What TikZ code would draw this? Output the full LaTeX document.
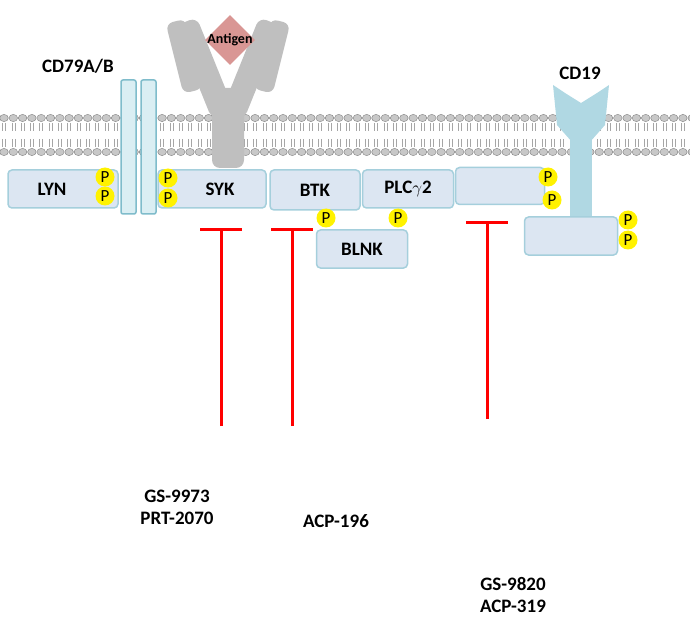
\documentclass[tikz,border=0pt]{standalone}
\usepackage{fontspec}
\setmainfont{Carlito}
\usepackage{xcolor}
\usetikzlibrary{shapes.geometric}
\definecolor{boxfill}{HTML}{DCE6F2}
\definecolor{boxline}{HTML}{A5CFDC}
\definecolor{barfill}{HTML}{DAEEF3}
\definecolor{barline}{HTML}{7FBCCB}
\definecolor{cdcol}{HTML}{B0D8E3}
\definecolor{bcrgray}{HTML}{BFBFBF}
\definecolor{headgray}{HTML}{C8C8C8}
\definecolor{antigen}{HTML}{D99694}
\tikzset{
    kinase/.style = {draw=boxline, fill=boxfill, line width=1.5pt, rectangle, rounded corners=4pt},
    phos/.style = {fill=yellow, circle, inner sep=0pt, minimum size=19pt, font=\fontsize{17}{17}\selectfont},
    label-text/.style = {font=\fontsize{19}{22}\selectfont\bfseries},
    inhibit/.style = {draw=red, line width=3pt},
}
\begin{document}
\begin{tikzpicture}[x=1pt, y=-1pt]
\useasboundingbox (0,0) rectangle (690,628);
% membrane
\foreach \i in {0,...,74} {
    \draw[gray, fill=headgray, line width=0.4pt] (4+9.3*\i,118) ellipse (4.3 and 3.6);
    \draw[gray, fill=headgray, line width=0.4pt] (4+9.3*\i,152) ellipse (4.3 and 3.6);
    \draw[gray!70, line width=0.5pt] (2.5+9.3*\i,123) -- (2.5+9.3*\i,131) (5.5+9.3*\i,123) -- (5.5+9.3*\i,131);
    \draw[gray!70, line width=0.5pt] (2.5+9.3*\i,139) -- (2.5+9.3*\i,147) (5.5+9.3*\i,139) -- (5.5+9.3*\i,147);
}
% B cell receptor
\begin{scope}[fill=bcrgray]
\fill[rounded corners=8pt] (212,88) rectangle (244,168);
\fill[rounded corners=8pt, rotate around={22:(205,70)}] (193,18) rectangle (217,118);
\fill[rounded corners=8pt, rotate around={-22:(251,70)}] (239,18) rectangle (263,118);
\fill[rounded corners=7pt, rotate around={14:(185,55)}] (174,20) rectangle (194,92);
\fill[rounded corners=7pt, rotate around={-14:(271,55)}] (262,20) rectangle (282,92);
\end{scope}
\node[diamond, fill=antigen, minimum width=50pt, minimum height=50pt, inner sep=0pt] (antigen) at (230,40) {};
\node[font=\fontsize{14}{16}\selectfont\bfseries] at (antigen.center) {Antigen};
% CD79A/B
\draw[draw=barline, fill=barfill, line width=1.5pt, rounded corners=2pt] (121,80) rectangle (136,214);
\draw[draw=barline, fill=barfill, line width=1.5pt, rounded corners=2pt] (141,80) rectangle (156,214);
\node[label-text] (cd79) at (78,66) {CD79A/B};
% CD19
\fill[cdcol] (570,135) rectangle (592,218);
\fill[cdcol] (553,85) -- (565,93) -- (581,103) -- (597,93) -- (609,85) -- (605,125) -- (590,142) -- (572,142) -- (557,125) -- cycle;
\node[label-text] (cd19) at (580,73) {CD19};
% kinases
\node[kinase, minimum width=110pt, minimum height=38pt] (lyn) at (63,189) {};
\node[label-text] at (52,189) {LYN};
\node[kinase, minimum width=108pt, minimum height=38pt] (syk) at (212,189) {};
\node[label-text] at (220,189) {SYK};
\node[kinase, minimum width=90pt, minimum height=40pt, label-text] (btk) at (315,190) {BTK};
\node[kinase, minimum width=91pt, minimum height=38pt, label-text] (plc) at (408,189) {PLC$\gamma$2};
\node[kinase, minimum width=89pt, minimum height=37pt] (pik) at (500,186) {};
\node[kinase, minimum width=91pt, minimum height=38pt, label-text] (blnk) at (362,249) {BLNK};
\node[kinase, minimum width=93pt, minimum height=38pt] (cd19box) at (571,236) {};
% phosphates
\node[phos] (p1) at (105,177) {P};
\node[phos] (p2) at (105,196) {P};
\node[phos] (p3) at (168,178) {P};
\node[phos] (p4) at (168,198) {P};
\node[phos] (p5) at (326,218) {P};
\node[phos] (p6) at (398,218) {P};
\node[phos] (p7) at (548,177) {P};
\node[phos] (p8) at (552,200) {P};
\node[phos] (p9) at (628,220) {P};
\node[phos] (p10) at (628,240) {P};
% inhibitors
\coordinate (syk-top) at (221,230);
\coordinate (syk-end) at (221,426);
\coordinate (btk-top) at (292,230);
\coordinate (btk-end) at (292,426);
\coordinate (pik-top) at (487,223);
\coordinate (pik-end) at (487,419);
\draw[inhibit] (syk-end) -- (syk-top) ([xshift=-21pt]syk-top) -- ([xshift=21pt]syk-top);
\draw[inhibit] (btk-end) -- (btk-top) ([xshift=-21pt]btk-top) -- ([xshift=21pt]btk-top);
\draw[inhibit] (pik-end) -- (pik-top) ([xshift=-21pt]pik-top) -- ([xshift=21pt]pik-top);
% drugs
\node[label-text, align=center] (syk-drug) at (177,507) {GS-9973\\PRT-2070};
\node[label-text] (btk-drug) at (336,521) {ACP-196};
\node[label-text, align=center] (pik-drug) at (513,595) {GS-9820\\ACP-319};
\end{tikzpicture}
\end{document}
